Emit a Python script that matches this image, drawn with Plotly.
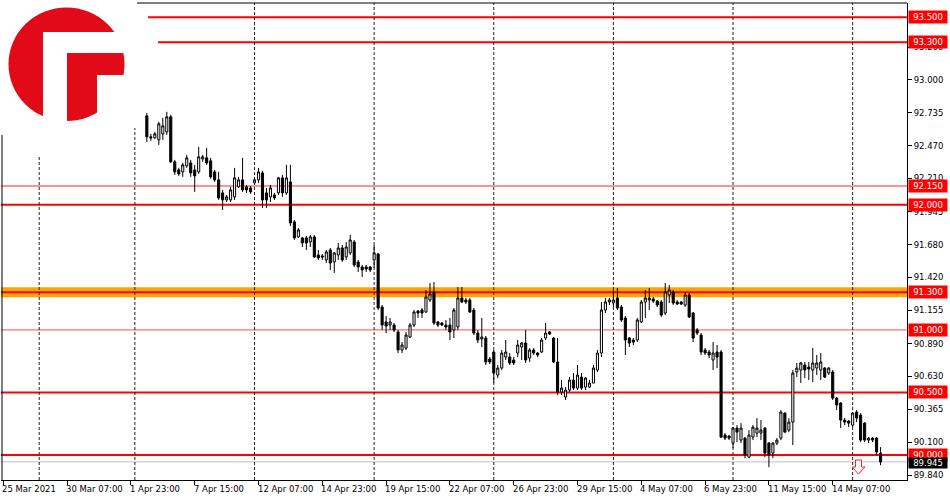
import plotly.graph_objects as go

W, H = 950, 500
ML, MR, MT, MB = 1, 43, 3, 20
FONT = "DejaVu Sans"

# ---------------- data (H4 bars, index = bar number from 25 Mar 2021) ----------------
bar_index = list(range(36, 221))

opens = [
    92.711, 92.543, 92.535, 92.519, 92.567, 92.583, 92.703, 92.343, 92.279, 92.263,
    92.311, 92.335, 92.279, 92.263, 92.367, 92.375, 92.351, 92.263, 92.199, 92.095,
    92.039, 92.039, 92.063, 92.143, 92.199, 92.143, 92.135, 92.175, 92.199, 92.255,
    92.095, 92.063, 92.079, 92.095, 92.215, 92.095, 92.183, 91.863, 91.743, 91.735,
    91.735, 91.703, 91.743, 91.599, 91.591, 91.559, 91.639, 91.543, 91.599, 91.655,
    91.583, 91.615, 91.703, 91.543, 91.503, 91.503, 91.503, 91.559, 91.607, 91.183,
    91.063, 91.039, 91.039, 90.983, 90.839, 90.855, 90.943, 91.039, 91.151, 91.159,
    91.143, 91.239, 91.303, 91.063, 91.055, 91.039, 91.039, 90.999, 91.023, 91.255,
    91.239, 91.239, 91.159, 90.975, 90.927, 90.935, 90.767, 90.823, 90.639, 90.695,
    90.783, 90.783, 90.759, 90.815, 90.863, 90.895, 90.775, 90.839, 90.815, 90.823,
    90.935, 90.983, 90.935, 90.743, 90.503, 90.463, 90.519, 90.599, 90.535, 90.623,
    90.543, 90.543, 90.575, 90.679, 90.815, 91.159, 91.223, 91.215, 91.255, 91.183,
    91.095, 90.935, 90.919, 90.919, 91.063, 91.223, 91.239, 91.247, 91.231, 91.223,
    91.135, 91.279, 91.303, 91.223, 91.223, 91.199, 91.279, 91.135, 90.999, 90.959,
    90.839, 90.823, 90.759, 90.823, 90.823, 90.159, 90.151, 90.095, 90.215, 90.119,
    90.135, 89.983, 90.143, 90.175, 90.175, 90.215, 90.095, 90.015, 90.095, 90.135,
    90.335, 90.199, 90.263, 90.663, 90.679, 90.719, 90.703, 90.679, 90.695, 90.679,
    90.695, 90.655, 90.663, 90.455, 90.415, 90.279, 90.271, 90.239, 90.343, 90.319,
    90.255, 90.119, 90.135, 90.135, 90.015,
]
highs = [
    92.735, 92.567, 92.583, 92.663, 92.695, 92.743, 92.719, 92.359, 92.295, 92.335,
    92.399, 92.359, 92.319, 92.463, 92.399, 92.455, 92.375, 92.279, 92.263, 92.119,
    92.079, 92.143, 92.295, 92.223, 92.375, 92.159, 92.151, 92.215, 92.295, 92.271,
    92.135, 92.159, 92.095, 92.223, 92.239, 92.319, 92.319, 91.879, 91.815, 91.743,
    91.751, 91.759, 91.759, 91.639, 91.607, 91.639, 91.655, 91.623, 91.695, 91.679,
    91.703, 91.759, 91.719, 91.559, 91.519, 91.519, 91.511, 91.679, 91.615, 91.199,
    91.111, 91.095, 91.055, 90.999, 90.903, 90.983, 91.055, 91.159, 91.159, 91.175,
    91.319, 91.375, 91.383, 91.071, 91.063, 91.079, 91.095, 91.175, 91.343, 91.343,
    91.255, 91.255, 91.175, 90.999, 91.095, 90.951, 90.783, 90.839, 90.719, 90.839,
    90.919, 90.815, 90.783, 90.919, 90.903, 90.999, 90.855, 90.855, 90.823, 90.935,
    91.055, 90.991, 90.943, 90.935, 90.599, 90.543, 90.623, 90.655, 90.719, 90.655,
    90.623, 90.599, 90.719, 90.839, 91.223, 91.255, 91.255, 91.319, 91.335, 91.199,
    91.111, 90.943, 90.935, 91.095, 91.239, 91.319, 91.335, 91.263, 91.239, 91.239,
    91.375, 91.359, 91.319, 91.239, 91.231, 91.303, 91.295, 91.143, 91.015, 90.975,
    90.855, 90.839, 90.903, 90.879, 90.839, 90.175, 90.159, 90.223, 90.239, 90.255,
    90.143, 90.199, 90.239, 90.295, 90.279, 90.223, 90.103, 90.103, 90.135, 90.359,
    90.343, 90.295, 90.679, 90.735, 90.743, 90.743, 90.743, 90.855, 90.799, 90.815,
    90.703, 90.703, 90.679, 90.463, 90.423, 90.295, 90.279, 90.343, 90.359, 90.335,
    90.263, 90.143, 90.143, 90.143, 90.063,
]
lows = [
    92.503, 92.511, 92.527, 92.479, 92.519, 92.559, 92.335, 92.239, 92.231, 92.223,
    92.295, 92.223, 92.103, 92.247, 92.343, 92.319, 92.207, 92.183, 92.039, 91.959,
    92.023, 92.023, 92.039, 92.135, 92.103, 92.095, 92.087, 92.159, 92.175, 91.975,
    91.975, 92.023, 92.039, 92.079, 92.063, 92.079, 91.831, 91.719, 91.735, 91.663,
    91.639, 91.663, 91.575, 91.559, 91.559, 91.535, 91.479, 91.455, 91.559, 91.543,
    91.559, 91.599, 91.503, 91.463, 91.423, 91.463, 91.463, 91.495, 91.159, 90.999,
    90.975, 90.999, 90.983, 90.815, 90.815, 90.839, 90.935, 91.023, 91.095, 91.095,
    91.135, 91.223, 91.039, 91.023, 91.031, 90.999, 90.919, 90.935, 90.999, 91.215,
    91.207, 91.135, 90.959, 90.895, 90.863, 90.719, 90.727, 90.575, 90.615, 90.679,
    90.759, 90.719, 90.719, 90.783, 90.759, 90.735, 90.743, 90.799, 90.783, 90.815,
    90.919, 90.959, 90.735, 90.479, 90.479, 90.439, 90.503, 90.519, 90.519, 90.519,
    90.519, 90.535, 90.575, 90.663, 90.783, 91.135, 91.199, 91.183, 91.159, 91.063,
    90.799, 90.863, 90.879, 90.903, 91.055, 91.095, 91.159, 91.215, 91.183, 91.103,
    91.119, 91.215, 91.199, 91.199, 91.199, 91.183, 91.095, 90.903, 90.959, 90.799,
    90.799, 90.775, 90.679, 90.695, 90.135, 90.119, 90.119, 90.055, 90.103, 90.095,
    89.975, 89.975, 90.119, 90.143, 90.119, 89.983, 89.903, 89.975, 90.079, 90.119,
    90.175, 90.183, 90.079, 90.623, 90.575, 90.615, 90.599, 90.583, 90.639, 90.599,
    90.615, 90.639, 90.439, 90.359, 90.215, 90.239, 90.223, 90.223, 90.263, 90.103,
    90.103, 90.095, 90.103, 89.999, 89.919,
]
closes = [
    92.543, 92.535, 92.567, 92.647, 92.631, 92.703, 92.343, 92.263, 92.247, 92.319,
    92.375, 92.255, 92.231, 92.383, 92.383, 92.335, 92.223, 92.199, 92.055, 92.039,
    92.063, 92.119, 92.215, 92.199, 92.119, 92.119, 92.103, 92.199, 92.263, 92.039,
    92.039, 92.135, 92.055, 92.215, 92.095, 92.215, 91.855, 91.735, 91.799, 91.695,
    91.695, 91.743, 91.583, 91.575, 91.583, 91.623, 91.535, 91.615, 91.655, 91.559,
    91.663, 91.719, 91.519, 91.503, 91.479, 91.487, 91.479, 91.615, 91.175, 91.039,
    91.031, 91.063, 90.999, 90.839, 90.879, 90.959, 91.039, 91.143, 91.135, 91.135,
    91.263, 91.287, 91.055, 91.039, 91.039, 91.023, 90.983, 91.159, 91.255, 91.223,
    91.223, 91.143, 90.975, 90.919, 90.943, 90.743, 90.743, 90.655, 90.695, 90.815,
    90.823, 90.735, 90.735, 90.879, 90.895, 90.759, 90.839, 90.815, 90.799, 90.919,
    90.975, 90.967, 90.743, 90.503, 90.535, 90.519, 90.599, 90.535, 90.639, 90.535,
    90.615, 90.575, 90.695, 90.815, 91.159, 91.223, 91.239, 91.239, 91.175, 91.079,
    90.919, 90.895, 90.903, 91.079, 91.223, 91.255, 91.255, 91.231, 91.199, 91.119,
    91.303, 91.319, 91.215, 91.207, 91.207, 91.279, 91.103, 90.935, 90.975, 90.823,
    90.815, 90.799, 90.815, 90.783, 90.143, 90.135, 90.135, 90.215, 90.183, 90.215,
    89.999, 90.159, 90.223, 90.215, 90.199, 90.015, 89.999, 90.095, 90.119, 90.343,
    90.183, 90.263, 90.655, 90.695, 90.735, 90.679, 90.687, 90.735, 90.735, 90.743,
    90.623, 90.695, 90.455, 90.399, 90.279, 90.263, 90.255, 90.335, 90.295, 90.119,
    90.119, 90.135, 90.119, 90.023, 89.945,
]

time_tick_bars = [0, 16, 32, 48, 64, 80, 96, 112, 128, 144, 160, 176, 192, 208]
time_tick_labels = ["25 Mar 2021", "30 Mar 07:00", "1 Apr 23:00", "7 Apr 15:00",
                    "12 Apr 07:00", "14 Apr 23:00", "19 Apr 15:00", "22 Apr 07:00",
                    "26 Apr 23:00", "29 Apr 15:00", "4 May 07:00", "6 May 23:00",
                    "11 May 15:00", "14 May 07:00"]

week_separator_bars = [9, 33, 63, 93, 123, 153, 183, 213]

price_ticks = [93.260, 93.000, 92.735, 92.470, 92.210, 91.945, 91.680,
               91.420, 91.155, 90.890, 90.630, 90.365, 90.100, 89.840]

level_prices = [93.500, 93.300, 92.150, 92.000, 91.300, 91.000, 90.500, 90.000]
level_thick = [True, True, False, True, True, False, True, True]
current_price = 89.945

X_RANGE = [-0.577, 226.63]
Y_RANGE = [89.800, 93.613]

# ---------------- helpers for pixel-placed decorations ----------------
PW, PH = W - ML - MR, H - MT - MB


def px(x):
    return (x - ML) / PW


def py(y):
    return (H - MB - y) / PH


fig = go.Figure()
fig.add_trace(go.Candlestick(
    x=bar_index, open=opens, high=highs, low=lows, close=closes,
    increasing=dict(line=dict(color="#000000", width=1), fillcolor="#FFFFFF"),
    decreasing=dict(line=dict(color="#000000", width=1), fillcolor="#000000"),
    whiskerwidth=0, hoverinfo="skip", showlegend=False,
))

shapes = []
# orange zone behind 91.300
shapes.append(dict(type="line", xref="paper", yref="y", x0=0, x1=1, y0=91.3, y1=91.3,
                   line=dict(color="#FFA500", width=10), layer="below"))
# horizontal levels
level_start = {93.5: px(148), 93.3: px(158)}
for p, thick in zip(level_prices, level_thick):
    shapes.append(dict(type="line", xref="paper", yref="y",
                       x0=level_start.get(p, 0), x1=1, y0=p, y1=p,
                       line=dict(color="#FF0000" if thick else "#FF6E6E",
                                 width=2 if thick else 1.3),
                       layer="below"))
# current price line
shapes.append(dict(type="line", xref="paper", yref="y", x0=0, x1=1,
                   y0=current_price, y1=current_price,
                   line=dict(color="#C0C0C0", width=1), layer="below"))
# weekly separators
sep_top = {9: py(157), 33: py(128)}
for b in week_separator_bars:
    shapes.append(dict(type="line", xref="x", yref="paper", x0=b, x1=b,
                       y0=0, y1=sep_top.get(b, 1),
                       line=dict(color="#202020", width=1, dash="3px,2px"),
                       layer="below"))
# frame (top and left), partly hidden behind the logo
shapes.append(dict(type="line", xref="paper", yref="paper", x0=px(137), x1=1,
                   y0=1, y1=1, line=dict(color="#000000", width=1)))
shapes.append(dict(type="line", xref="paper", yref="paper", x0=px(2), x1=px(2),
                   y0=0, y1=py(135), line=dict(color="#000000", width=1)))
# logo
LOGO_RED = "#E30A17"
shapes.append(dict(type="circle", xref="paper", yref="paper",
                   x0=px(8.5), x1=px(124.5), y0=py(121), y1=py(7.5),
                   fillcolor=LOGO_RED, line=dict(width=0)))
for (x0, y0, x1, y1) in [(43, 32, 67, 126), (43, 32, 128, 53), (97, 75, 128, 126)]:
    shapes.append(dict(type="rect", xref="paper", yref="paper",
                       x0=px(x0), x1=px(x1), y0=py(y1), y1=py(y0),
                       fillcolor="#FFFFFF", line=dict(width=0)))
# sell arrow marker
arrow = [(855.5, 460), (861.5, 460), (861.5, 467), (865, 467), (858.5, 474),
         (852, 467), (855.5, 467)]
path = "M " + " L ".join(f"{px(a)},{py(b)}" for a, b in arrow) + " Z"
shapes.append(dict(type="path", xref="paper", yref="paper", path=path,
                   fillcolor="#FFFFFF", line=dict(color="#FF2020", width=1)))

annotations = []
for b, t in zip(time_tick_bars, time_tick_labels):
    annotations.append(dict(x=b, xref="x", y=0, yref="paper", text=t,
                            showarrow=False, xanchor="left", yanchor="top",
                            xshift=-3, yshift=-2,
                            font=dict(family=FONT, size=8.5, color="#000000")))
for p in level_prices:
    annotations.append(dict(x=1, xref="paper", y=p, yref="y", text=f"{p:.3f}",
                            showarrow=False, xanchor="left", yanchor="middle",
                            xshift=1, width=36, height=10, borderpad=1,
                            bgcolor="#FF0000",
                            font=dict(family=FONT, size=8.5, color="#FFFFFF")))
# current price label drawn last (on top)
annotations.append(dict(x=1, xref="paper", y=current_price, yref="y",
                        text=f"{current_price:.3f}", showarrow=False,
                        xanchor="left", yanchor="middle", xshift=1, yshift=-1,
                        width=36, height=8, borderpad=1, bgcolor="#000000",
                        font=dict(family=FONT, size=8.5, color="#FFFFFF")))

fig.update_layout(
    width=W, height=H,
    margin=dict(l=ML, r=MR, t=MT, b=MB, pad=0),
    paper_bgcolor="#FFFFFF", plot_bgcolor="#FFFFFF",
    font=dict(family=FONT, size=8.5, color="#000000"),
    showlegend=False, boxgap=0.25,
    shapes=shapes, annotations=annotations,
    xaxis=dict(range=X_RANGE, rangeslider=dict(visible=False), showgrid=False,
               zeroline=False, showline=True, linecolor="#000000", linewidth=1,
               ticks="outside", ticklen=4, tickcolor="#000000",
               tickvals=time_tick_bars, showticklabels=False, fixedrange=True),
    yaxis=dict(range=Y_RANGE, side="right", showgrid=False, zeroline=False,
               showline=True, linecolor="#000000", linewidth=1,
               ticks="outside", ticklen=4, tickcolor="#000000",
               tickvals=price_ticks, ticktext=[f"{v:.3f}" for v in price_ticks],
               tickfont=dict(family=FONT, size=8.5, color="#000000"),
               fixedrange=True),
)

fig.write_html(
    "out.html",
    config={"displayModeBar": False, "staticPlot": True},
    post_script="document.body.style.margin='0';document.body.style.overflow='hidden';",
)
